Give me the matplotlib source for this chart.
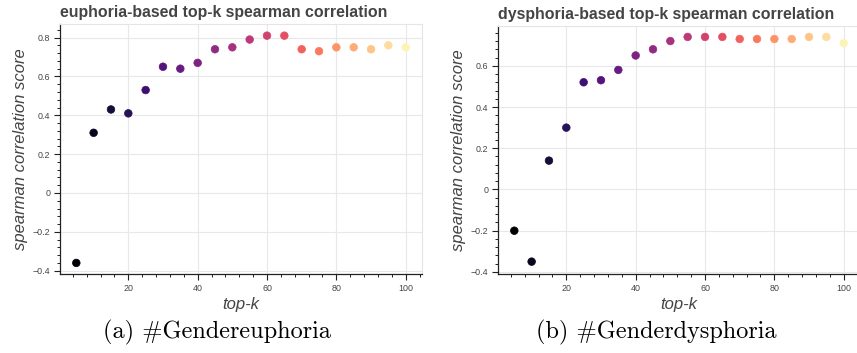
import matplotlib
matplotlib.use("Agg")
import matplotlib.pyplot as plt
from matplotlib.ticker import MultipleLocator, FuncFormatter
import numpy as np

top_k = [5, 10, 15, 20, 25, 30, 35, 40, 45, 50, 55, 60, 65, 70, 75, 80, 85, 90, 95, 100]
euphoria_corr = [-0.36, 0.31, 0.43, 0.41, 0.53, 0.65, 0.64, 0.67, 0.74, 0.75,
                 0.79, 0.81, 0.81, 0.74, 0.73, 0.75, 0.75, 0.74, 0.76, 0.75]
dysphoria_corr = [-0.20, -0.35, 0.14, 0.30, 0.52, 0.53, 0.58, 0.65, 0.68, 0.72,
                  0.74, 0.74, 0.74, 0.73, 0.73, 0.73, 0.73, 0.74, 0.74, 0.71]
titles = ["euphoria-based top-k spearman correlation", "dysphoria-based top-k spearman correlation"]
captions = ["(a) #Gendereuphoria", "(b) #Genderdysphoria"]

plt.rcParams["font.family"] = ["Liberation Sans", "DejaVu Sans"]

W, H = 857, 353
fig = plt.figure(figsize=(W / 100, H / 100), dpi=100)


def px_axes(x0, y0, x1, y1):
    # pixel box (top-left origin) -> figure fraction
    return fig.add_axes([x0 / W, 1 - y1 / H, (x1 - x0) / W, (y1 - y0) / H])


def fmt(v, pos):
    s = f"{v:.1f}"
    if abs(v) < 1e-9:
        return "0"
    return s.replace("-", "\u2212")


colors = plt.cm.magma(np.linspace(0, 0.98, len(top_k)))

panels = [
    (px_axes(60, 24, 422, 274), euphoria_corr, (-0.417, 0.87), (0.3, 104.7)),
    (px_axes(498, 26, 860, 274), dysphoria_corr, (-0.41, 0.793), (0.3, 104.7)),
]

for i, (ax, vals, ylim, xlim) in enumerate(panels):
    ax.scatter(top_k, vals, s=30, c=colors, edgecolors=colors, linewidths=0.5, zorder=3)
    ax.set_xlim(*xlim)
    ax.set_ylim(*ylim)
    ax.xaxis.set_major_locator(MultipleLocator(20))
    ax.xaxis.set_minor_locator(MultipleLocator(4))
    ax.yaxis.set_major_locator(MultipleLocator(0.2))
    ax.yaxis.set_minor_locator(MultipleLocator(0.04))
    ax.yaxis.set_major_formatter(FuncFormatter(fmt))
    ax.grid(True, which="major", color="#e8e8e8", linewidth=0.8, zorder=0)
    ax.set_axisbelow(True)
    for side in ["top", "right"]:
        ax.spines[side].set_color("#e5e5e5")
        ax.spines[side].set_linewidth(0.8)
    for side in ["left", "bottom"]:
        ax.spines[side].set_color("#222222")
        ax.spines[side].set_linewidth(0.9)
    ax.tick_params(which="major", length=4, width=0.8, color="#222222",
                   labelsize=6.4, labelcolor="#444444", pad=3)
    ax.tick_params(which="minor", length=2.5, width=0.7, color="#222222")
    ax.tick_params(top=False, right=False)
    ax.set_title(titles[i], fontsize=11.4, fontweight="bold", color="#444444",
                 loc="left", pad=5)
    ax.set_xlabel("top-k", fontsize=12, style="italic", color="#444444", labelpad=3)
    ax.set_ylabel("spearman correlation score", fontsize=12, style="italic",
                  color="#444444", labelpad=3)

fig.text(217 / W, 1 - 332 / H, captions[0], fontsize=17.5, family="cmr10",
         ha="center", va="center")
fig.text(656 / W, 1 - 332 / H, captions[1], fontsize=17.5, family="cmr10",
         ha="center", va="center")

fig.savefig("out.png", dpi=100, facecolor="white")
